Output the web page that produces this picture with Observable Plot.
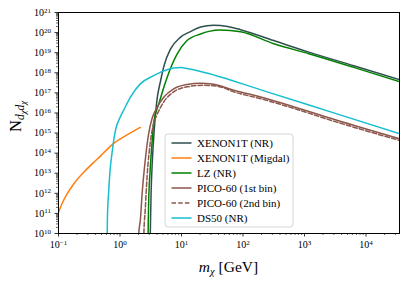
<!DOCTYPE html>
<html><head><meta charset="utf-8">
<script src="https://cdn.jsdelivr.net/npm/d3@7"></script>
<script src="https://cdn.jsdelivr.net/npm/@observablehq/plot@0.6"></script>
<style>body{margin:0;background:#fff}</style>
</head><body><div id="chart"></div>
<script>
// ---- data (mass in GeV, N_{dχ dχ}) ----
const xenonNR_mass = [3.07, 3.13, 3.20, 3.36, 3.63, 3.98, 4.57, 5.25, 6.61, 9.55, 14.0, 20.4, 33.1, 56.2, 91.2, 316, 1175, 6310, 35000];
const xenonNR_N    = [1e9, 3.2e10, 9.8e11, 4.4e13, 1.95e15, 4.2e16, 4.0e17, 2.5e18, 1.5e19, 5.8e19, 1.12e20, 1.9e20, 2.3e20, 2.0e20, 1.4e20, 4.0e19, 1.07e19, 2.24e18, 4.5e17];

const migdal_mass = [0.1, 0.115, 0.138, 0.178, 0.257, 0.355, 0.479, 0.741, 1.26, 2.14];
const migdal_N    = [1.12e11, 3.2e11, 9.3e11, 3.0e12, 1.12e13, 3.0e13, 7.1e13, 2.6e14, 7.6e14, 1.9e15];

const lz_mass = [2.84, 2.88, 2.92, 3.09, 3.31, 3.52, 4.27, 5.83, 8.51, 12.3, 20.4, 28.0, 42.7, 91.2, 316, 1175, 6310, 35000];
const lz_N    = [1e9, 3.2e10, 3.2e11, 1.4e13, 2.95e14, 3.2e15, 2.8e16, 5.9e17, 8.7e18, 4.0e19, 8.5e19, 1.15e20, 1.35e20, 1.1e20, 2.8e19, 8.9e18, 1.86e18, 3.6e17];

const pico1_mass = [1.98, 2.03, 2.14, 2.29, 2.57, 2.92, 3.31, 3.76, 5.13, 7.46, 12.3, 20.4, 31.6, 70.8, 200, 589, 3160, 35000];
const pico1_N    = [1e9, 1.2e10, 4.6e10, 9.8e11, 4.4e13, 9.1e14, 5.1e15, 1.32e16, 6.0e16, 1.58e17, 2.6e17, 3.0e17, 2.75e17, 1.35e17, 6.0e16, 2.3e16, 4.6e15, 5.2e14];

const pico2_mass = [2.41, 2.45, 2.57, 2.75, 3.09, 3.52, 3.98, 5.13, 7.46, 12.3, 22.4, 39.8, 70.8, 200, 589, 3160, 35000];
const pico2_N    = [1e9, 1.2e10, 1.45e11, 6.3e12, 2.95e14, 2.9e15, 7.9e15, 3.5e16, 1.12e17, 2.0e17, 2.4e17, 2.1e17, 1.12e17, 5.0e16, 1.9e16, 3.7e15, 4.3e14];

const ds50_mass = [0.614, 0.624, 0.652, 0.692, 0.741, 0.838, 1.01, 1.15, 1.47, 2.14, 3.52, 4.53, 7.46, 10, 12.3, 20.4, 219, 3160, 35000];
const ds50_N    = [1e9, 6.3e10, 1e12, 1.6e13, 1e14, 1.26e15, 6.3e15, 1.4e16, 6.0e16, 2.8e17, 7.2e17, 1.05e18, 1.74e18, 1.82e18, 1.62e18, 1.17e18, 1.26e17, 9.5e15, 9.3e14];

const seriesNames = ["XENON1T (NR)", "XENON1T (Migdal)", "LZ (NR)", "PICO-60 (1st bin)", "PICO-60 (2nd bin)", "DS50 (NR)"];
const xTickExps = [-1, 0, 1, 2, 3, 4];
const yTickExps = [10, 11, 12, 13, 14, 15, 16, 17, 18, 19, 20, 21];

// ---- styles ----
const series = [
  {name: seriesNames[0], m: xenonNR_mass, n: xenonNR_N, color: "#2f4f4f", dash: null},
  {name: seriesNames[1], m: migdal_mass,  n: migdal_N,  color: "#ff7f0e", dash: null},
  {name: seriesNames[2], m: lz_mass,      n: lz_N,      color: "#008000", dash: null},
  {name: seriesNames[3], m: pico1_mass,   n: pico1_N,   color: "#8c564b", dash: null},
  {name: seriesNames[4], m: pico2_mass,   n: pico2_N,   color: "#8c564b", dash: "4.5,2.2"},
  {name: seriesNames[5], m: ds50_mass,    n: ds50_N,    color: "#17becf", dash: null}
];

const xMajor = xTickExps.map(e => Math.pow(10, e));
const yMajor = yTickExps.map(e => Math.pow(10, e));
const xMinor = xTickExps.flatMap(e => d3.range(2, 10).map(k => k * Math.pow(10, e))).filter(v => v <= 35000);
const yMinor = yTickExps.slice(0, -1).flatMap(e => d3.range(2, 10).map(k => k * Math.pow(10, e)));
const fmt = d => "10^" + Math.round(Math.log10(d));

const lineMarks = series.map(s => Plot.line(s.m.map((m, i) => ({m, n: s.n[i]})), {
  x: "m", y: "n", stroke: s.color, strokeWidth: 1.5, strokeDasharray: s.dash, curve: "monotone-x", clip: true
}));

const svg = Plot.plot({
  width: 407, height: 282,
  marginLeft: 58, marginRight: 8, marginTop: 12, marginBottom: 49,
  style: {fontFamily: "Liberation Serif, serif", fontSize: "10px", background: "#fff", color: "#000"},
  x: {type: "log", domain: [0.1, 35000]},
  y: {type: "log", domain: [1e10, 1e21]},
  marks: [
    ...lineMarks,
    Plot.axisX(xMinor, {tickSize: 2, tickFormat: () => "", label: null, strokeWidth: 0.6}),
    Plot.axisX(xMajor, {tickSize: 3.5, tickPadding: 4, tickFormat: fmt, label: null, strokeWidth: 0.8}),
    Plot.axisY(yMinor, {tickSize: 2, tickFormat: () => "", label: null, strokeWidth: 0.6}),
    Plot.axisY(yMajor, {tickSize: 3.5, tickPadding: 4, tickFormat: fmt, label: null, strokeWidth: 0.8}),
    Plot.frame({stroke: "#000", strokeWidth: 1})
  ]
});
document.getElementById("chart").appendChild(svg);

const S = d3.select(svg);
// superscripts for tick labels
S.selectAll("text").each(function() {
  const t = this.textContent;
  const mm = /^10\^(-?\d+)$/.exec(t);
  if (!mm) return;
  const el = d3.select(this);
  el.text("10");
  el.append("tspan").attr("dy", "-0.45em").attr("font-size", "7px").text(mm[1].replace("-", "\u2212"));
});

// axis labels
const xl = S.append("text").attr("x", 228.5).attr("y", 272).attr("text-anchor", "middle")
  .attr("font-family", "Liberation Serif, serif").attr("font-size", "15.5px");
xl.append("tspan").attr("font-style", "italic").text("m");
xl.append("tspan").attr("font-style", "italic").attr("font-size", "10.5px").attr("dy", 3).text("\u03c7");
xl.append("tspan").attr("dy", -3).text(" [GeV]");

const yl = S.append("text").attr("transform", "translate(21,132) rotate(-90)").attr("text-anchor", "start")
  .attr("font-family", "Liberation Serif, serif").attr("font-size", "16.5px");
yl.append("tspan").text("N");
yl.append("tspan").attr("font-style", "italic").attr("font-size", "11.5px").attr("dy", 3).text("d");
yl.append("tspan").attr("font-style", "italic").attr("font-size", "8.5px").attr("dy", 2).text("\u03c7");
yl.append("tspan").attr("font-style", "italic").attr("font-size", "11.5px").attr("dy", -2).text("d");
yl.append("tspan").attr("font-style", "italic").attr("font-size", "8.5px").attr("dy", 2).text("\u03c7");

// legend
const lg = S.append("g").attr("text-anchor", "start");
lg.append("rect").attr("x", 165).attr("y", 134).attr("width", 128).attr("height", 93).attr("rx", 3)
  .attr("fill", "#fff").attr("fill-opacity", 0.8).attr("stroke", "#cccccc").attr("stroke-width", 0.8);
series.forEach((s, i) => {
  const y = 143 + i * 15;
  lg.append("line").attr("x1", 171.5).attr("x2", 191.5).attr("y1", y).attr("y2", y)
    .attr("stroke", s.color).attr("stroke-width", 1.5).attr("stroke-dasharray", s.dash);
  lg.append("text").attr("x", 197).attr("y", y + 3.6).attr("text-anchor", "start").attr("font-family", "Liberation Serif, serif")
    .attr("font-size", "11px").attr("fill", "#000").text(s.name);
});
</script></body></html>
